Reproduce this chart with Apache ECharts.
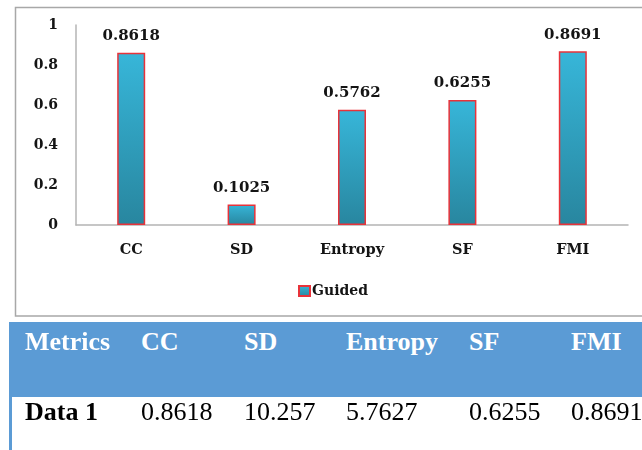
<!DOCTYPE html>
<html>
<head>
<meta charset="utf-8">
<script src="https://cdn.jsdelivr.net/npm/echarts@6/dist/echarts.min.js"></script>
<style>
  html, body { margin: 0; padding: 0; background: #fff; }
  #wrap { position: relative; width: 642px; height: 450px; overflow: hidden; }
  #chart { position: absolute; left: 0; top: 0; width: 642px; height: 450px; }
  .band { position: absolute; left: 9px; top: 322px; width: 640px; height: 75px; background: #5b9bd5; }
  .edge { position: absolute; left: 9px; top: 397px; width: 3px; height: 60px; background: #5b9bd5; }
  .cell { position: absolute; font-family: 'Liberation Serif', 'Times New Roman', serif; font-size: 26px; line-height: 30px; white-space: nowrap; }
  .head { color: #fff; font-weight: bold; top: 327px; }
  .data { color: #000; top: 397px; }
</style>
</head>
<body>
<div id="wrap">
  <div id="chart"></div>
  <div class="band"></div>
  <div class="edge"></div>
</div>
<script>
// chart data
const categories = ['CC', 'SD', 'Entropy', 'SF', 'FMI'];
const guided = [0.8618, 0.1025, 0.5762, 0.6255, 0.8691];
const seriesName = 'Guided';

// table under the chart
const tableHeader = ['Metrics', 'CC', 'SD', 'Entropy', 'SF', 'FMI'];
const tableRow = ['Data 1', '0.8618', '10.257', '5.7627', '0.6255', '0.8691'];

// table column left edges (layout only)
const colLeft = [25, 141, 244, 346, 469, 571];

const wrap = document.getElementById('wrap');
tableHeader.forEach((t, i) => {
  const d = document.createElement('div');
  d.className = 'cell head';
  d.style.left = colLeft[i] + 'px';
  d.textContent = t;
  wrap.appendChild(d);
});
tableRow.forEach((t, i) => {
  const d = document.createElement('div');
  d.className = 'cell data';
  d.style.left = colLeft[i] + 'px';
  if (i === 0) d.style.fontWeight = 'bold';
  d.textContent = t;
  wrap.appendChild(d);
});

const FONT = "'DejaVu Serif', serif";
const TXT = '#141414';
const barFill = new echarts.graphic.LinearGradient(0, 0, 0, 1, [
  { offset: 0, color: '#37b6d9' },
  { offset: 1, color: '#28869f' },
]);

const chart = echarts.init(document.getElementById('chart'));
chart.setOption({
  animation: false,
  graphic: [
    {
      type: 'rect',
      shape: { x: 15.5, y: 7.5, width: 640, height: 308.5 },
      style: { fill: 'none', stroke: '#a8a8a8', lineWidth: 1.5 },
      silent: true,
    },
  ],
  grid: { left: 76, right: 14, top: 25, bottom: 225 },
  legend: {
    left: 298,
    top: 284,
    padding: 0,
    icon: 'rect',
    itemWidth: 11,
    itemHeight: 10,
    itemGap: 4,
    textStyle: { fontFamily: FONT, fontWeight: 'bold', fontSize: 14, color: TXT, padding: [0, 0, 0, -3] },
    data: [seriesName],
  },
  xAxis: {
    type: 'category',
    data: categories,
    axisLine: { lineStyle: { color: '#b4b4b4', width: 1.5 } },
    axisTick: { show: false },
    axisLabel: { fontFamily: FONT, fontWeight: 'bold', fontSize: 14.5, color: TXT, margin: 18 },
  },
  yAxis: {
    type: 'value',
    min: 0,
    max: 1,
    interval: 0.2,
    axisLine: { show: true, lineStyle: { color: '#b4b4b4', width: 1.5 } },
    axisTick: { show: false },
    splitLine: { show: false },
    axisLabel: { fontFamily: FONT, fontWeight: 'bold', fontSize: 14, color: TXT, margin: 18 },
  },
  series: [
    {
      name: seriesName,
      type: 'bar',
      data: guided,
      barWidth: 28,
      itemStyle: { color: barFill, borderColor: '#e8333a', borderWidth: 1.5 },
      label: {
        show: true,
        position: 'top',
        distance: 9,
        fontFamily: FONT,
        fontWeight: 'bold',
        fontSize: 15,
        color: TXT,
        formatter: p => p.value.toFixed(4),
      },
    },
  ],
});
</script>
</body>
</html>
